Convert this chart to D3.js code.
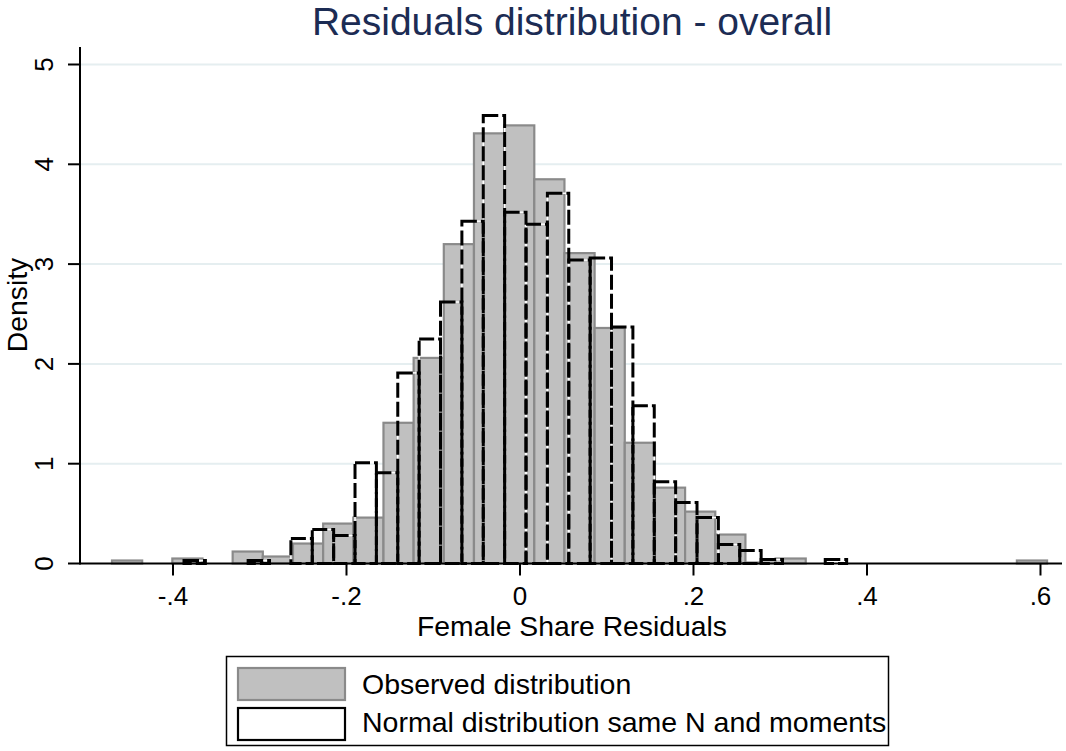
<!DOCTYPE html>
<html>
<head>
<meta charset="utf-8">
<script src="https://cdn.jsdelivr.net/npm/d3@7"></script>
<style>
  html, body { margin: 0; padding: 0; background: #fff; }
  svg { display: block; font-family: "Liberation Sans", Arial, sans-serif; }
</style>
</head>
<body>
<svg id="chart" width="1066" height="751"></svg>
<script>
// ---- data ----
const title = "Residuals distribution - overall";
const xTitle = "Female Share Residuals";
const yTitle = "Density";
const xTicks = [-0.4, -0.2, 0, 0.2, 0.4, 0.6];
const xTickLabels = ["-.4", "-.2", "0", ".2", ".4", ".6"];
const yTicks = [0, 1, 2, 3, 4, 5];
const yTickLabels = ["0", "1", "2", "3", "4", "5"];
const legendLabels = ["Observed distribution", "Normal distribution same N and moments"];

// observed histogram: first bin left edge, bin width, densities
const obsStart = -0.4703;
const obsWidth = 0.03477;
const observed = [0.03, 0, 0.05, 0, 0.12, 0.07, 0.20, 0.40, 0.46, 1.41, 2.06, 3.20, 4.31, 4.39,
                  3.85, 3.11, 2.36, 1.21, 0.76, 0.52, 0.29, 0.01, 0.05, 0, 0, 0, 0, 0, 0, 0, 0.03];

// simulated normal histogram: first bin left edge, bin width, densities
const normStart = -0.3873;
const normWidth = 0.02464;
const normal = [0.03, 0, 0, 0.03, 0, 0.25, 0.34, 0.28, 1.01, 0.91, 1.91, 2.25, 2.62, 3.43, 4.49,
                3.52, 3.40, 3.71, 3.04, 3.06, 2.37, 1.58, 0.82, 0.61, 0.46, 0.19, 0.13, 0.04, 0, 0, 0.04];

(function () {
// ---- layout ----
const svg = d3.select("#chart");
const pL = 80, pR = 1062, pT = 47, pB = 563.5;
const x = d3.scaleLinear().domain([-0.5072, 0.6248]).range([pL, pR]);
const y = d3.scaleLinear().domain([0, 5]).range([pB, 64.5]);

// gridlines
svg.append("g").selectAll("line")
  .data(yTicks.filter(d => d > 0))
  .join("line")
  .attr("x1", pL).attr("x2", pR)
  .attr("y1", d => y(d)).attr("y2", d => y(d))
  .attr("stroke", "#e5eef0").attr("stroke-width", 2);

// observed bars
const obsData = observed.map((v, i) => ({ x0: obsStart + i * obsWidth, x1: obsStart + (i + 1) * obsWidth, v }))
  .filter(d => d.v > 0);
svg.append("g").selectAll("rect")
  .data(obsData)
  .join("rect")
  .attr("x", d => x(d.x0))
  .attr("y", d => y(d.v))
  .attr("width", d => x(d.x1) - x(d.x0))
  .attr("height", d => y(0) - y(d.v))
  .attr("fill", "#c0c0c0")
  .attr("stroke", "#8a8a8a")
  .attr("stroke-width", 2.2);

// normal bars (dashed outlines)
const normData = normal.map((v, i) => ({ x0: normStart + i * normWidth, x1: normStart + (i + 1) * normWidth, v }))
  .filter(d => d.v > 0);
const ng = svg.append("g");
ng.selectAll("rect.bg")
  .data(normData)
  .join("rect")
  .attr("class", "bg")
  .attr("x", d => x(d.x0))
  .attr("y", d => y(d.v))
  .attr("width", d => x(d.x1) - x(d.x0))
  .attr("height", d => y(0) - y(d.v))
  .attr("fill", "none")
  .attr("stroke", "#ffffff")
  .attr("stroke-width", 1.5);
ng.selectAll("rect.fg")
  .data(normData)
  .join("rect")
  .attr("class", "fg")
  .attr("x", d => x(d.x0))
  .attr("y", d => y(d.v))
  .attr("width", d => x(d.x1) - x(d.x0))
  .attr("height", d => y(0) - y(d.v))
  .attr("fill", "none")
  .attr("stroke", "#000")
  .attr("stroke-width", 3)
  .attr("stroke-dasharray", "15,4");

// axes lines
svg.append("line").attr("x1", pL).attr("x2", pL).attr("y1", pT).attr("y2", pB + 1)
  .attr("stroke", "#000").attr("stroke-width", 2);
svg.append("line").attr("x1", pL).attr("x2", pR).attr("y1", pB).attr("y2", pB)
  .attr("stroke", "#000").attr("stroke-width", 2);

// x ticks
const xg = svg.append("g");
xg.selectAll("line").data(xTicks).join("line")
  .attr("x1", d => x(d)).attr("x2", d => x(d))
  .attr("y1", pB).attr("y2", pB + 12)
  .attr("stroke", "#000").attr("stroke-width", 2);
xg.selectAll("text").data(xTicks).join("text")
  .attr("x", d => x(d)).attr("y", 605)
  .attr("text-anchor", "middle")
  .attr("font-size", 26)
  .text((d, i) => xTickLabels[i]);

// y ticks
const yg = svg.append("g");
yg.selectAll("line").data(yTicks).join("line")
  .attr("x1", pL - 12).attr("x2", pL)
  .attr("y1", d => y(d)).attr("y2", d => y(d))
  .attr("stroke", "#000").attr("stroke-width", 2);
yg.selectAll("text").data(yTicks).join("text")
  .attr("transform", d => `translate(53,${y(d)}) rotate(-90)`)
  .attr("text-anchor", "middle")
  .attr("font-size", 26)
  .text((d, i) => yTickLabels[i]);

// titles
svg.append("text").attr("x", 572).attr("y", 35).attr("text-anchor", "middle")
  .attr("font-size", 39).attr("fill", "#1c2c54").text(title);
svg.append("text").attr("x", 572).attr("y", 636).attr("text-anchor", "middle")
  .attr("font-size", 28.3).text(xTitle);
svg.append("text").attr("transform", "translate(27,305) rotate(-90)").attr("text-anchor", "middle")
  .attr("font-size", 28.3).text(yTitle);

// legend
const lg = svg.append("g");
lg.append("rect").attr("x", 226.5).attr("y", 656.5).attr("width", 662).attr("height", 89)
  .attr("fill", "#fff").attr("stroke", "#000").attr("stroke-width", 1.5);
lg.append("rect").attr("x", 238).attr("y", 668).attr("width", 107).attr("height", 32)
  .attr("fill", "#c0c0c0").attr("stroke", "#8a8a8a").attr("stroke-width", 2.2);
lg.append("rect").attr("x", 238).attr("y", 708).attr("width", 107).attr("height", 32)
  .attr("fill", "#fff").attr("stroke", "#000").attr("stroke-width", 2.2);
lg.selectAll("text.lab").data(legendLabels).join("text")
  .attr("class", "lab")
  .attr("x", 362).attr("y", (d, i) => 694 + i * 38)
  .attr("font-size", 28.5)
  .text(d => d);
})();
</script>
</body>
</html>
